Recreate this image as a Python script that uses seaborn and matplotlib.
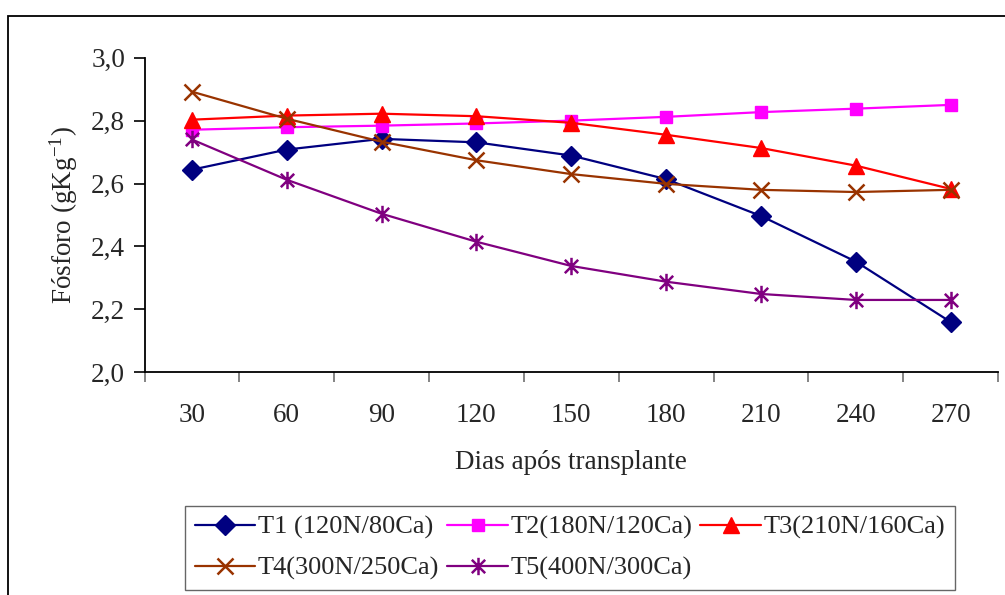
import numpy as np
import pandas as pd
import matplotlib
matplotlib.use("Agg")
import matplotlib.pyplot as plt
from matplotlib.patches import Rectangle
from matplotlib.path import Path
from matplotlib.transforms import IdentityTransform
import seaborn as sns

# Days after transplanting and phosphorus content per treatment
dias = ["30", "60", "90", "120", "150", "180", "210", "240", "270"]
t1 = [2.644, 2.708, 2.742, 2.731, 2.689, 2.614, 2.497, 2.352, 2.160]
t2 = [2.771, 2.779, 2.784, 2.791, 2.800, 2.812, 2.827, 2.838, 2.850]
t3 = [2.803, 2.816, 2.822, 2.814, 2.793, 2.755, 2.713, 2.657, 2.583]
t4 = [2.892, 2.806, 2.733, 2.674, 2.630, 2.599, 2.580, 2.573, 2.580]
t5 = [2.740, 2.612, 2.504, 2.415, 2.338, 2.288, 2.249, 2.230, 2.230]
nomes = ["T1 (120N/80Ca)", "T2(180N/120Ca)", "T3(210N/160Ca)",
         "T4(300N/250Ca)", "T5(400N/300Ca)"]
yticks = [2.0, 2.2, 2.4, 2.6, 2.8, 3.0]
ytick_labels = ["2,0", "2,2", "2,4", "2,6", "2,8", "3,0"]

cores = ["#000080", "#FF00FF", "#FF0000", "#993300", "#800080"]

# Excel-style star: an X crossed by a vertical bar
star = Path([(-1, -1), (1, 1), (-1, 1), (1, -1), (0, -1.3), (0, 1.3)],
            [Path.MOVETO, Path.LINETO, Path.MOVETO, Path.LINETO,
             Path.MOVETO, Path.LINETO])
marcadores = ["D", "s", "^", "x", star]
tamanhos = [10.5, 9, 11, 11, 12.5]

sns.set_style("white")
plt.rcParams["font.family"] = ["Liberation Serif", "DejaVu Serif"]
plt.rcParams["mathtext.fontset"] = "custom"
plt.rcParams["mathtext.rm"] = "Liberation Serif"
plt.rcParams["mathtext.it"] = "Liberation Serif:italic"
FS = 19.5

series = [t1, t2, t3, t4, t5]
pos = np.arange(len(dias))
df = pd.concat([
    pd.DataFrame({"pos": pos, "valor": vals, "trat": nome})
    for nome, vals in zip(nomes, series)
], ignore_index=True)

fig = plt.figure(figsize=(10.05, 5.95), dpi=100)
ax = fig.add_axes([144.5 / 1005, 1 - 372.3 / 595,
                   (998 - 144.5) / 1005, (372.3 - 57.7) / 595])

handles = []
for nome, cor, mk, ms in zip(nomes, cores, marcadores, tamanhos):
    sub = df[df["trat"] == nome]
    filled = mk in ("D", "s", "^")
    sns.lineplot(data=sub, x="pos", y="valor", ax=ax, color=cor,
                 linewidth=1.6, marker=mk, markersize=ms,
                 markerfacecolor=cor if filled else "none",
                 markeredgecolor=cor, markeredgewidth=1.0 if filled else 1.8,
                 label=nome, legend=False, sort=False)
    handles.append(ax.lines[-1])

ax.set_xlim(-0.5, len(dias) - 0.5)
ax.set_ylim(2.0, 3.0)

# Category boundaries carry the tick marks, centres carry the labels
ax.set_xticks(np.arange(-0.5, len(dias)), minor=False)
ax.set_xticklabels([])
ax.set_xticks(pos, minor=True)
ax.set_xticklabels(dias, minor=True, fontsize=FS)
ax.tick_params(axis="x", which="major", direction="out", length=7,
               width=1.2, color="#707070", bottom=True)
ax.tick_params(axis="x", which="minor", length=0, pad=22)

ax.set_yticks(yticks)
ax.set_yticklabels(ytick_labels, fontsize=FS)
ax.tick_params(axis="y", direction="out", length=8, width=1.2,
               color="black", left=True, pad=6)

for s in ["top", "right"]:
    ax.spines[s].set_visible(False)
for s in ["left", "bottom"]:
    ax.spines[s].set_color("black")
    ax.spines[s].set_linewidth(1.3)

ax.set_xlabel("Dias após transplante", fontsize=FS, labelpad=16)
ax.set_ylabel("Fósforo (gKg$^{-1}$)", fontsize=FS, labelpad=8)

# Row-wise ordering for a three-column legend
ordem = [0, 3, 1, 4, 2]
leg = fig.legend([handles[i] for i in ordem], [nomes[i] for i in ordem],
                 ncol=3, loc="center", bbox_to_anchor=(570 / 1005, 1 - 548 / 595),
                 fontsize=19, frameon=True, fancybox=False, edgecolor="#404040",
                 handlelength=2.3, handletextpad=0.1, columnspacing=0.3,
                 labelspacing=0.65, borderpad=0.35, borderaxespad=0)
leg.get_frame().set_linewidth(1.0)

# Outer chart frame
fig.patches.append(Rectangle((8, 595 - 16 - 600), 1010, 600, fill=False,
                             edgecolor="black", linewidth=1.3,
                             transform=IdentityTransform(), figure=fig))

fig.savefig("out.png", dpi=100)
